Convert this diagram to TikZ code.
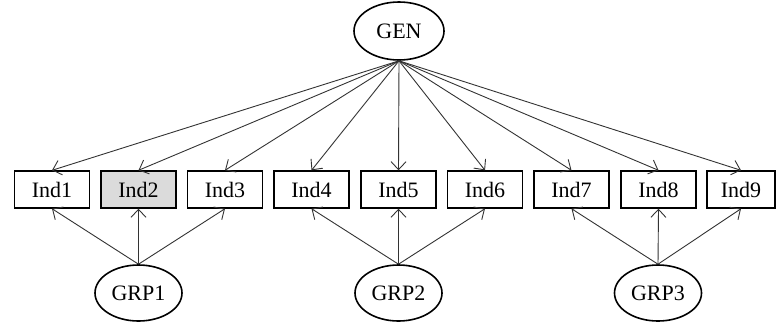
\documentclass[tikz,border=0pt]{standalone}
\usepackage{fontspec}
\setmainfont{Liberation Serif}
\usetikzlibrary{arrows.meta,shapes.geometric}
\begin{document}
\begin{tikzpicture}[x=1pt,y=-1pt,
  lbl/.style={font=\fontsize{22}{22}\selectfont},
  ind/.style={lbl,draw,line width=1.4pt,minimum width=75pt,minimum height=37pt,inner sep=0pt},
  lat/.style={lbl,draw,ellipse,line width=1.6pt,minimum width=87pt,minimum height=56pt,inner sep=0pt},
  arr/.style={-{Straight Barb[length=8pt,width=15pt]},line width=0.9pt,draw=black!80}]
\useasboundingbox (0,0) rectangle (776,322);
\node[lat,minimum width=90pt,minimum height=58pt] (gen) at (399,31) {GEN};
\node[ind] (i1) at (52,189.5) {Ind1};
\node[ind,fill=black!14] (i2) at (138.5,189.5) {Ind2};
\node[ind] (i3) at (225,189.5) {Ind3};
\node[ind] (i4) at (311.5,189.5) {Ind4};
\node[ind] (i5) at (398.5,189.5) {Ind5};
\node[ind] (i6) at (485,189.5) {Ind6};
\node[ind] (i7) at (571.5,189.5) {Ind7};
\node[ind] (i8) at (658.5,189.5) {Ind8};
\node[ind,minimum width=68pt] (i9) at (741,189.5) {Ind9};
\node[lat] (g1) at (138.5,293) {GRP1};
\node[lat] (g2) at (398.5,293) {GRP2};
\node[lat] (g3) at (658,293) {GRP3};
\foreach \i in {1,...,9} {\draw[arr] (gen.south) -- (i\i.north);}
\foreach \i in {1,2,3} {\draw[arr] (g1.north) -- (i\i.south);}
\foreach \i in {4,5,6} {\draw[arr] (g2.north) -- (i\i.south);}
\foreach \i in {7,8,9} {\draw[arr] (g3.north) -- (i\i.south);}
\end{tikzpicture}
\end{document}
